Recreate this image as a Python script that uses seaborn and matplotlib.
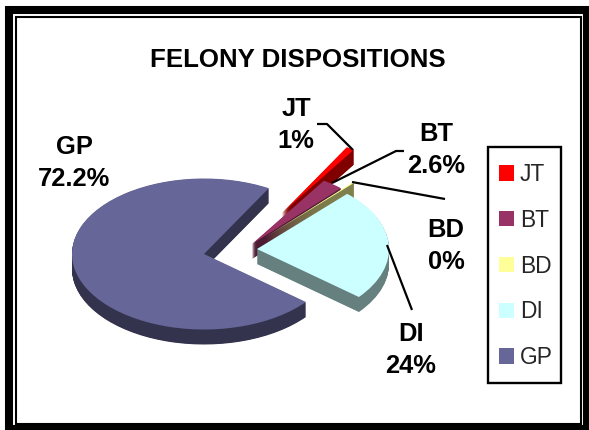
#!/usr/bin/env python3
"""Felony dispositions, exploded pseudo-3D pie with a framed border."""

import matplotlib
matplotlib.use("Agg")
import matplotlib.pyplot as plt
from matplotlib.patches import Patch, Rectangle
import seaborn as sns

# Data
categories = ["JT", "BT", "BD", "DI", "GP"]
values = [1.0, 2.6, 0.2, 24.0, 72.2]
value_labels = ["1%", "2.6%", "0%", "24%", "72.2%"]
title = "FELONY DISPOSITIONS"
slice_colors = ["#ff0000", "#993366", "#ffff99", "#ccffff", "#666699"]

# Layout, all in image pixels
W, H = 589, 430
CX, CY = 204, 254     # centre of the unshifted pie
RX, RY = 132, 75.5    # ellipse radii
DEPTH = 15
shift_px = {"JT": (78, -41), "BT": (48, -10), "BD": (60, -16), "DI": (53, -5), "GP": (0, 0)}
draw_order = {"GP": 1, "JT": 2, "BT": 3, "BD": 4, "DI": 5}
START_ANGLE = 60.6

label_pos = {"JT": (296, 125), "BT": (436, 150), "BD": (446, 246), "DI": (411, 350), "GP": (74, 163)}
leaders = {
    "JT": [(317, 124), (327, 124), (353, 150)],
    "BT": [(404, 151), (396, 151), (332, 183)],
    "BD": [(352, 182), (445, 199)],
    "DI": [(387, 245), (412, 310)],
}

sns.set_theme(style="white")
plt.rcParams["font.family"] = ["Liberation Sans", "DejaVu Sans"]

top_colors = sns.color_palette(slice_colors)
side_colors = [tuple(c * 0.5 for c in col) for col in top_colors]

fig = plt.figure(figsize=(W / 100, H / 100), dpi=100, facecolor="white")
pie_ax = fig.add_axes([0, 0, 1, 1])
overlay = fig.add_axes([0, 0, 1, 1], facecolor="none")


def draw_layer(depth_px, colors, layer_z):
    """One full pie at a given depth; stacking layers gives the extrusion."""
    wedges, _ = pie_ax.pie(values, colors=colors, startangle=START_ANGLE, counterclock=False,
                           wedgeprops={"linewidth": 0})
    for wedge, cat in zip(wedges, categories):
        dx, dy = shift_px[cat]
        wedge.set_center((dx / RX, -(dy + depth_px) / RY))
        wedge.set_zorder(draw_order[cat] * 100 + layer_z)


for step in range(DEPTH * 2, 0, -1):
    draw_layer(step / 2, side_colors, DEPTH * 2 - step)
draw_layer(0, top_colors, DEPTH * 2 + 1)

pie_ax.set_aspect("auto")
pie_ax.set_xlim(-CX / RX, (W - CX) / RX)
pie_ax.set_ylim((CY - H) / RY, CY / RY)
pie_ax.axis("off")

overlay.set_xlim(0, W)
overlay.set_ylim(H, 0)
overlay.axis("off")

# Double border
overlay.add_patch(Rectangle((9, 10), 577.5, 418.5, fill=False, ec="black", lw=5.8, joinstyle="miter"))
overlay.add_patch(Rectangle((16, 16.5), 565, 407.5, fill=False, ec="black", lw=1.5, joinstyle="miter"))

overlay.text(298, 60, title, ha="center", va="center", fontsize=18.6, fontweight="bold", color="black")

for cat, text in zip(categories, value_labels):
    x, y = label_pos[cat]
    overlay.text(x, y, f"{cat}\n{text}", ha="center", va="center", fontsize=18.4,
                 fontweight="bold", color="black", linespacing=1.41)

for pts in leaders.values():
    xs, ys = zip(*pts)
    overlay.plot(xs, ys, color="black", lw=1.6, solid_capstyle="butt")

# Legend frame is separate because the box has more padding above and below than at the sides
overlay.add_patch(Rectangle((488, 147), 73, 236, fc="white", ec="black", lw=1.7, joinstyle="miter"))
handles = [Patch(facecolor=c, edgecolor="none", label=cat) for c, cat in zip(top_colors, categories)]
leg = overlay.legend(handles=handles, loc="upper left",
                     bbox_to_anchor=(499 / W, 1 - 163 / H), bbox_transform=fig.transFigure,
                     fontsize=16.4, frameon=False, borderaxespad=0, borderpad=0,
                     handlelength=0.66, handleheight=0.66, handletextpad=0.26,
                     labelspacing=1.0)

fig.savefig("out.png", dpi=100)
